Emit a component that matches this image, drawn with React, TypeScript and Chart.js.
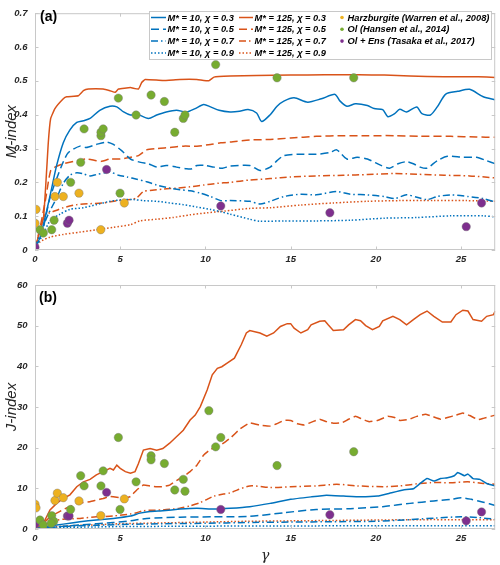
import React, { useEffect, useRef } from "react";
import { Chart, registerables } from "chart.js";
Chart.register(...registerables);

type P = [number, number];

// ---------- axis ticks ----------
const X_TICKS = [0, 5, 10, 15, 20, 25];
const X_TICK_LABELS = ["0", "5", "10", "15", "20", "25"];
const Y_TICKS_A = [0, 0.1, 0.2, 0.3, 0.4, 0.5, 0.6, 0.7];
const Y_TICK_LABELS_A = ["0", "0.1", "0.2", "0.3", "0.4", "0.5", "0.6", "0.7"];
const Y_TICKS_B = [0, 10, 20, 30, 40, 50, 60];
const Y_TICK_LABELS_B = ["0", "10", "20", "30", "40", "50", "60"];

// ---------- legend labels ----------
const LABELS_M10 = ["M* = 10, χ = 0.3", "M* = 10, χ = 0.5", "M* = 10, χ = 0.7", "M* = 10, χ = 0.9"];
const LABELS_M125 = ["M* = 125, χ = 0.3", "M* = 125, χ = 0.5", "M* = 125, χ = 0.7", "M* = 125, χ = 0.9"];
const LABELS_DATA = ["Harzburgite (Warren et al., 2008)", "Ol (Hansen et al., 2014)", "Ol + Ens (Tasaka et al., 2017)"];

// ---------- panel (a): M-index ----------
const aB03: P[] = [[0,0.005],[0.3,0.038],[0.68,0.115],[0.98,0.183],[1.27,0.25],[1.66,0.317],[2.05,0.355],[2.45,0.377],[2.84,0.382],[3.23,0.389],[3.8,0.413],[4.4,0.425],[4.8,0.423],[5.2,0.408],[5.6,0.399],[5.97,0.402],[6.65,0.389],[7.14,0.399],[7.7,0.408],[8.3,0.413],[8.9,0.408],[9.4,0.418],[9.9,0.43],[10.3,0.423],[10.8,0.413],[11.45,0.408],[12.0,0.41],[12.5,0.415],[13.0,0.405],[13.3,0.38],[13.8,0.4],[14.2,0.425],[14.6,0.44],[15.2,0.45],[16.0,0.437],[16.8,0.447],[17.6,0.46],[17.9,0.44],[18.3,0.425],[18.8,0.432],[19.5,0.427],[19.9,0.418],[20.4,0.415],[20.7,0.394],[21.1,0.403],[21.4,0.416],[21.8,0.408],[22.4,0.423],[22.7,0.403],[23.2,0.399],[23.6,0.423],[24.1,0.461],[24.8,0.469],[25.5,0.475],[26.3,0.453],[27,0.444]];
const aB05: P[] = [[0,0.005],[0.4,0.048],[0.88,0.154],[1.57,0.25],[1.96,0.288],[2.64,0.307],[3.0,0.303],[3.6,0.312],[4.2,0.319],[4.6,0.312],[5.1,0.293],[5.6,0.269],[6.2,0.259],[6.65,0.255],[7.14,0.245],[7.7,0.25],[8.3,0.245],[8.9,0.24],[9.2,0.24],[9.5,0.25],[10.0,0.25],[10.5,0.245],[11.0,0.242],[11.45,0.248],[12.6,0.25],[13.2,0.235],[13.8,0.245],[14.2,0.264],[14.6,0.279],[15.4,0.283],[16.5,0.283],[17.3,0.288],[17.7,0.296],[18.3,0.269],[18.9,0.274],[19.5,0.269],[20.3,0.25],[20.8,0.242],[21.3,0.255],[21.8,0.261],[22.2,0.255],[22.6,0.245],[23.0,0.242],[23.6,0.264],[24.2,0.277],[25.1,0.274],[25.9,0.274],[26.5,0.264],[27,0.255]];
const aB07: P[] = [[0,0.005],[0.3,0.048],[0.78,0.106],[1.27,0.154],[1.66,0.197],[2.05,0.221],[2.45,0.228],[2.84,0.225],[3.23,0.219],[3.6,0.223],[4.1,0.228],[4.4,0.231],[4.9,0.221],[5.4,0.216],[5.97,0.209],[6.55,0.202],[7.14,0.192],[7.9,0.183],[8.5,0.178],[9.1,0.175],[9.7,0.168],[10.3,0.158],[10.9,0.146],[11.45,0.146],[12.6,0.144],[13.2,0.136],[13.8,0.144],[14.6,0.158],[15.6,0.165],[16.5,0.163],[17.7,0.173],[18.5,0.165],[19.5,0.163],[20.5,0.158],[21.1,0.152],[21.8,0.163],[22.4,0.156],[23.0,0.149],[23.6,0.158],[24.4,0.163],[25.4,0.158],[26.3,0.152],[27,0.142]];
const aB09: P[] = [[0,0.005],[0.5,0.048],[0.88,0.086],[1.47,0.106],[2.05,0.12],[2.84,0.125],[3.6,0.134],[4.4,0.144],[5.2,0.149],[5.77,0.149],[6.36,0.146],[7.14,0.144],[7.9,0.139],[8.7,0.134],[9.5,0.127],[10.3,0.12],[10.9,0.113],[11.45,0.106],[12.6,0.091],[13.2,0.085],[14.6,0.086],[16.5,0.086],[18.5,0.088],[20.5,0.094],[22.4,0.096],[24.4,0.101],[26.3,0.101],[27,0.098]];
const aO03: P[] = [[0,0.005],[0.5,0.096],[0.78,0.317],[0.92,0.389],[1.17,0.418],[1.66,0.447],[1.86,0.453],[2.54,0.456],[2.84,0.471],[3.13,0.476],[4.0,0.476],[4.4,0.471],[4.7,0.466],[4.9,0.476],[5.6,0.48],[6.07,0.476],[6.26,0.495],[6.46,0.504],[7.5,0.501],[8.5,0.504],[9.5,0.504],[10.2,0.5],[10.5,0.511],[11.45,0.514],[13,0.516],[15,0.517],[17,0.518],[19,0.518],[20.5,0.517],[22,0.514],[24,0.512],[26,0.512],[27,0.51]];
const aO05: P[] = [[0,0.005],[0.3,0.067],[0.6,0.144],[0.92,0.235],[1.17,0.245],[1.66,0.255],[2.45,0.264],[3.0,0.269],[3.6,0.264],[3.9,0.262],[4.4,0.269],[5.0,0.269],[5.6,0.274],[6.07,0.279],[6.55,0.296],[7.14,0.3],[7.9,0.303],[8.7,0.307],[9.5,0.307],[10.3,0.312],[10.9,0.317],[11.45,0.319],[12.6,0.325],[13.8,0.327],[15,0.331],[16.5,0.336],[18.1,0.338],[19.5,0.338],[21.1,0.338],[22.6,0.336],[24.4,0.336],[25.9,0.334],[27,0.333]];
const aO07: P[] = [[0,0.005],[0.3,0.06],[0.6,0.106],[0.88,0.11],[1.66,0.125],[2.45,0.134],[3.23,0.137],[4.0,0.139],[4.8,0.146],[5.6,0.149],[5.97,0.154],[6.36,0.173],[6.75,0.176],[7.5,0.18],[8.3,0.183],[9.1,0.187],[9.9,0.192],[10.7,0.197],[11.45,0.2],[12.6,0.207],[13.8,0.211],[15,0.216],[16.5,0.219],[18.1,0.221],[19.5,0.223],[21.1,0.226],[22.4,0.224],[24,0.221],[25.5,0.219],[27,0.213]];
const aO09: P[] = [[0,0.005],[0.3,0.024],[0.88,0.038],[1.66,0.046],[2.64,0.053],[3.6,0.06],[4.6,0.067],[5.6,0.075],[6.16,0.086],[7.14,0.091],[8.1,0.096],[9.1,0.104],[10.1,0.11],[11.1,0.115],[12.6,0.123],[13.8,0.125],[15.6,0.133],[17.5,0.139],[19.5,0.144],[21.4,0.146],[23.4,0.146],[25.3,0.146],[27,0.144]];
const aHarz: P[] = [[0.06,0.12],[0,0.079],[1.17,0.158],[1.31,0.2],[1.66,0.158],[2.58,0.168],[3.86,0.06],[5.24,0.139]];
const aOl: P[] = [[0.29,0.06],[0.49,0.05],[0.98,0.06],[1.12,0.088],[2.09,0.2],[2.68,0.259],[2.88,0.358],[3.87,0.338],[3.87,0.348],[4.0,0.358],[4.89,0.449],[4.99,0.168],[5.93,0.399],[6.81,0.458],[7.59,0.439],[8.2,0.348],[8.7,0.389],[8.8,0.399],[10.2,0.688],[10.6,0.548],[14.2,0.509],[18.7,0.509]];
const aEns: P[] = [[0,0.008],[1.9,0.079],[2.0,0.088],[4.2,0.238],[10.9,0.13],[17.3,0.11],[25.3,0.069],[26.2,0.139]];

// ---------- panel (b): J-index ----------
const bB03: P[] = [[0,0.05],[0.68,0.6],[1.66,1.2],[2.64,1.8],[3.6,2.2],[4.6,2.6],[5.6,3.2],[6.16,3.9],[6.75,4.3],[7.5,4.5],[8.5,4.9],[9.5,5.1],[10.5,4.9],[11.45,5.1],[12.6,5.5],[13.8,6.3],[15,7.3],[16.2,7.9],[17.1,8.3],[18.1,8.1],[19.1,7.9],[20.1,8.1],[20.8,8.8],[21.6,9.6],[22.2,9.9],[22.6,11.2],[23.0,12.4],[23.4,11.8],[23.8,12.4],[24.2,12.6],[24.6,13.1],[24.8,13.9],[25.2,13.1],[25.4,13.5],[25.7,12.4],[26.1,12.2],[26.5,11.2],[27,10.6]];
const bB05: P[] = [[0,0.02],[0.7,0.3],[2.64,1.0],[4.6,1.6],[5.6,2.0],[6.55,2.6],[8.5,2.9],[10.5,3.0],[11.45,3.0],[12.6,3.1],[14.6,4.0],[16.5,4.8],[18.5,5.0],[20.4,5.5],[22.0,6.3],[23.4,6.9],[24.4,7.3],[25,7.7],[25.6,7.3],[26.3,6.6],[27,5.8]];
const bB07: P[] = [[0,0.02],[1,0.4],[2,0.7],[3.5,0.9],[5,1.1],[7.5,1.3],[10,1.4],[12.5,1.6],[15,1.7],[17.5,1.8],[20,1.9],[22,2.3],[23.5,2.7],[25,3.0],[26,2.8],[27,2.4]];
const bB09: P[] = [[0,0.01],[1,0.2],[2,0.4],[3.5,0.5],[5,0.6],[7.5,0.65],[10,0.7],[15,0.75],[20,0.8],[25,0.8],[27,0.8]];
const bO03: P[] = [[0,0.2],[0.49,1.4],[0.88,4.7],[1.27,6.3],[1.66,7.5],[2.05,8.4],[2.45,10.4],[2.84,11.6],[3.23,12.2],[3.6,13.3],[4.0,14.1],[4.4,14.9],[4.6,14.5],[4.8,15.7],[5.0,14.9],[5.3,14.1],[5.6,13.7],[5.87,14.1],[6.07,16.1],[6.36,19.4],[6.75,19.8],[7.14,19.4],[7.5,19.8],[7.9,21.1],[8.3,22.7],[8.7,24.3],[9.1,26.8],[9.4,28.0],[9.7,30.1],[10.1,34.2],[10.4,37.9],[10.7,39.5],[10.96,39.9],[11.25,40.7],[11.7,42],[12.1,45.3],[12.4,48.2],[12.6,48.8],[13.2,48.2],[13.6,47.4],[14.0,48.2],[14.4,49.8],[14.8,50.5],[15,50.5],[15.2,49.4],[15.6,48.2],[16.0,49.0],[16.2,50.2],[16.7,51.1],[17.0,51.2],[17.2,50.2],[17.5,48.8],[18.1,49.0],[18.4,50.2],[18.8,51.5],[19.1,51.2],[19.4,50.0],[19.8,49.0],[20.2,49.8],[20.4,51.2],[21.0,52.3],[21.4,51.5],[21.8,50.2],[22.2,51.5],[22.6,52.7],[23.0,53.6],[23.4,52.3],[23.9,50.9],[24.4,50.9],[24.7,52.7],[25.1,53.8],[25.4,53.6],[25.7,51.5],[26.2,51.1],[26.5,52.3],[26.9,52.7],[27,53.6]];
const bO05: P[] = [[0,0.1],[0.5,1.4],[0.88,3.0],[1.27,3.9],[1.66,4.8],[2.05,5.5],[2.45,6.3],[2.84,6.5],[3.23,6.7],[3.6,7.1],[4.0,7.5],[4.4,8.0],[4.8,7.8],[5.2,7.5],[5.6,8.0],[5.97,9.6],[6.36,10.8],[6.75,10.6],[7.14,10.4],[7.5,10.4],[7.9,10.8],[8.3,11.9],[8.7,12.9],[9.1,14.1],[9.5,15.7],[9.9,18.2],[10.3,19.6],[10.7,20.2],[11.06,21.1],[11.5,22.5],[12.0,24.5],[12.6,26.1],[13.2,25.5],[13.8,25.3],[14.2,25.9],[14.6,26.7],[15.0,26.7],[15.4,25.9],[15.8,25.6],[16.3,26.4],[16.7,27.0],[17.1,26.4],[17.5,26.0],[18.0,26.1],[18.4,27.0],[18.8,27.7],[19.2,27.0],[19.6,26.4],[20.1,26.7],[20.7,27.7],[21.1,27.4],[21.4,26.7],[21.9,26.9],[22.4,27.7],[22.9,28.2],[23.3,27.7],[23.8,27.0],[24.2,27.4],[24.7,28.0],[25.1,28.5],[25.5,27.9],[26.0,26.9],[26.3,27.2],[27,28.0]];
const bO07: P[] = [[0,0.1],[0.5,1.0],[0.88,1.8],[1.66,2.4],[2.64,2.6],[3.6,3.0],[4.6,3.2],[5.6,3.7],[5.97,4.0],[6.36,4.5],[7.5,4.7],[8.5,5.1],[9.1,5.7],[9.7,6.5],[10.1,7.3],[10.5,8.1],[11.06,8.6],[11.45,8.9],[12.6,10.6],[13.8,10.2],[15,10.4],[16.5,10.6],[17.7,11.0],[18.9,10.6],[20.4,10.4],[21.4,10.6],[22.4,11.1],[23.2,11.4],[24.4,11.4],[25.4,11.6],[26.3,11.2],[27,11.0]];
const bO09: P[] = [[0,0.05],[1,0.5],[2,0.8],[3.5,1.0],[5,1.3],[7.5,1.5],[10,1.7],[12.5,1.9],[15,2.0],[17.5,2.1],[20,2.2],[22.5,2.3],[25,2.3],[27,2.3]];
const bHarz: P[] = [[0,6.1],[0.06,5.2],[1.17,7.0],[1.31,8.8],[1.66,7.7],[2.58,6.9],[3.86,3.3],[5.24,7.4]];
const bOl: P[] = [[0.29,2.2],[0.49,1.0],[0.98,3.3],[1.1,1.9],[0.95,1.4],[2.09,4.8],[2.68,13.1],[2.88,10.6],[3.87,10.6],[4.0,14.3],[4.89,22.5],[4.99,4.8],[5.93,11.6],[6.81,18.0],[6.81,17.0],[7.59,16.1],[8.2,9.6],[8.7,12.2],[8.8,9.3],[10.2,29.1],[10.6,20.2],[10.9,22.5],[14.2,15.6],[18.7,19.0]];
const bEns: P[] = [[0,1.2],[1.9,3.2],[2.0,3.2],[4.2,9.0],[10.9,4.8],[17.3,3.5],[25.3,2.0],[26.2,4.2]];

// ---------- styles ----------
const BLUE = "#0072BD";
const ORANGE = "#D95319";
const YELLOW = "#EDB120";
const GREEN = "#77AC30";
const PURPLE = "#7E2F8E";
const FRAME = "#c8c8c8";
const TEXT = "#262626";
const FAMILY = "'Liberation Sans', Arial, Helvetica, sans-serif";
const DASHES: number[][] = [[], [8, 4], [7, 3, 1.5, 3], [1.5, 2]];

const toXY = (pts: P[]) => pts.map(([x, y]) => ({ x, y }));

function lineDs(label: string, pts: P[], color: string, dash: number[], tension = 0.25): any {
  return {
    label, data: toXY(pts), showLine: true, borderColor: color, backgroundColor: color,
    borderWidth: 1.5, borderDash: dash, pointRadius: 0, pointHoverRadius: 0, tension, fill: false, order: 2,
  };
}
function scatDs(label: string, pts: P[], color: string): any {
  return {
    label, data: toXY(pts), showLine: false, backgroundColor: color,
    borderColor: "rgba(120,120,120,0.7)", borderWidth: 0.6, pointRadius: 4.2, order: 1,
  };
}

const boxPlugin = {
  id: "boxTicks",
  afterDatasetsDraw(chart: any) {
    const { ctx, chartArea, scales } = chart;
    const { left, right, top, bottom } = chartArea;
    ctx.save();
    ctx.strokeStyle = FRAME;
    ctx.lineWidth = 1;
    ctx.setLineDash([]);
    ctx.strokeRect(left + 0.5, top + 0.5, right - left - 1, bottom - top - 1);
    const tl = 3.5;
    ctx.beginPath();
    for (const t of scales.x.ticks) {
      const px = Math.round(scales.x.getPixelForValue(t.value)) + 0.5;
      ctx.moveTo(px, bottom); ctx.lineTo(px, bottom - tl);
      ctx.moveTo(px, top); ctx.lineTo(px, top + tl);
    }
    for (const t of scales.y.ticks) {
      const py = Math.round(scales.y.getPixelForValue(t.value)) + 0.5;
      ctx.moveTo(left, py); ctx.lineTo(left + tl, py);
      ctx.moveTo(right, py); ctx.lineTo(right - tl, py);
    }
    ctx.stroke();
    ctx.restore();
  },
};

function panelLabelPlugin(text: string, x: number, y: number) {
  return {
    id: "panelLabel",
    afterDraw(chart: any) {
      const ctx = chart.ctx;
      ctx.save();
      ctx.font = `bold 14px ${FAMILY}`;
      ctx.fillStyle = "#000";
      ctx.textBaseline = "middle";
      ctx.textAlign = "left";
      ctx.fillText(text, x, y);
      ctx.restore();
    },
  };
}

const legendPlugin = {
  id: "customLegend",
  afterDraw(chart: any) {
    const ctx = chart.ctx;
    const ds = chart.data.datasets;
    ctx.save();
    const bx = 149.5, by = 11.5, bw = 342, bh = 48;
    ctx.fillStyle = "#fff";
    ctx.fillRect(bx, by, bw, bh);
    ctx.strokeStyle = FRAME;
    ctx.lineWidth = 1;
    ctx.strokeRect(bx, by, bw, bh);
    const rows = [17.5, 29.3, 41.1, 52.9];
    const cols = [
      { lx0: 151, lx1: 166, tx: 167.5 },
      { lx0: 239, lx1: 253, tx: 254.5 },
      { lx0: 342, lx1: 342, tx: 347.5 },
    ];
    ctx.font = `italic bold 9.3px ${FAMILY}`;
    ctx.textBaseline = "middle";
    ctx.textAlign = "left";
    for (let c = 0; c < 3; c++) {
      for (let r = 0; r < 4; r++) {
        const d = ds[c * 4 + r];
        if (!d) continue;
        const y = rows[r];
        const col = cols[c];
        if (d.showLine) {
          ctx.strokeStyle = d.borderColor;
          ctx.lineWidth = 1.5;
          ctx.setLineDash(d.borderDash || []);
          ctx.beginPath();
          ctx.moveTo(col.lx0, y);
          ctx.lineTo(col.lx1, y);
          ctx.stroke();
          ctx.setLineDash([]);
        } else {
          ctx.fillStyle = d.backgroundColor;
          ctx.beginPath();
          ctx.arc(col.lx0, y, 1.8, 0, Math.PI * 2);
          ctx.fill();
        }
        ctx.fillStyle = "#000";
        ctx.fillText(d.label, col.tx, y + 0.5);
      }
    }
    ctx.restore();
  },
};

function makeOptions(yTicks: number[], yLabels: string[], yMax: number, yTitle: string, xTitle: string | null, padTop: number, xAxisH: number): any {
  const tickFont = { family: FAMILY, size: 9.5, weight: "bold", style: "italic" };
  return {
    animation: false,
    responsive: false,
    maintainAspectRatio: false,
    events: [],
    layout: { padding: { top: padTop, right: 4, left: 0, bottom: 0 } },
    plugins: { legend: { display: false }, tooltip: { enabled: false } },
    scales: {
      x: {
        type: "linear", min: 0, max: 27,
        grid: { display: false, drawTicks: false },
        border: { display: false },
        afterBuildTicks: (s: any) => { s.ticks = X_TICKS.map((value) => ({ value })); },
        ticks: {
          font: tickFont, color: TEXT, padding: 4, maxRotation: 0, autoSkip: false,
          callback: (v: number) => X_TICK_LABELS[X_TICKS.indexOf(v)] ?? "",
        },
        title: xTitle
          ? { display: true, text: xTitle, color: TEXT, font: { family: "'DejaVu Serif', 'Liberation Serif', serif", size: 14, style: "italic" }, padding: { top: 0, bottom: 0 } }
          : { display: false },
        afterFit: (s: any) => { s.height = xAxisH; },
      },
      y: {
        type: "linear", min: 0, max: yMax,
        grid: { display: false, drawTicks: false },
        border: { display: false },
        afterBuildTicks: (s: any) => { s.ticks = yTicks.map((value) => ({ value })); },
        ticks: {
          font: tickFont, color: TEXT, padding: 7.5, autoSkip: false,
          callback: (v: number) => yLabels[yTicks.indexOf(v)] ?? "",
        },
        title: { display: true, text: yTitle, color: TEXT, font: { family: FAMILY, size: 15, style: "italic" }, padding: { top: 3, bottom: 0 } },
        afterFit: (s: any) => { s.width = 35; },
      },
    },
  };
}

function PanelA() {
  const ref = useRef<HTMLCanvasElement>(null);
  useEffect(() => {
    const datasets = [
      lineDs(LABELS_M10[0], aB03, BLUE, DASHES[0]),
      lineDs(LABELS_M10[1], aB05, BLUE, DASHES[1]),
      lineDs(LABELS_M10[2], aB07, BLUE, DASHES[2]),
      lineDs(LABELS_M10[3], aB09, BLUE, DASHES[3]),
      lineDs(LABELS_M125[0], aO03, ORANGE, DASHES[0], 0.1),
      lineDs(LABELS_M125[1], aO05, ORANGE, DASHES[1]),
      lineDs(LABELS_M125[2], aO07, ORANGE, DASHES[2]),
      lineDs(LABELS_M125[3], aO09, ORANGE, DASHES[3]),
      scatDs(LABELS_DATA[0], aHarz, YELLOW),
      scatDs(LABELS_DATA[1], aOl, GREEN),
      scatDs(LABELS_DATA[2], aEns, PURPLE),
    ];
    const chart = new Chart(ref.current as HTMLCanvasElement, {
      type: "scatter",
      data: { datasets },
      options: makeOptions(Y_TICKS_A, Y_TICK_LABELS_A, 0.7, "M-index", null, 7, 20),
      plugins: [boxPlugin, legendPlugin, panelLabelPlugin("(a)", 40, 17.5)],
    } as any);
    return () => chart.destroy();
  }, []);
  return <canvas ref={ref} width={500} height={270} style={{ position: "absolute", left: 0, top: 0, width: 500, height: 270 }} />;
}

function PanelB() {
  const ref = useRef<HTMLCanvasElement>(null);
  useEffect(() => {
    const datasets = [
      lineDs(LABELS_M10[0], bB03, BLUE, DASHES[0], 0.1),
      lineDs(LABELS_M10[1], bB05, BLUE, DASHES[1]),
      lineDs(LABELS_M10[2], bB07, BLUE, DASHES[2]),
      lineDs(LABELS_M10[3], bB09, BLUE, DASHES[3]),
      lineDs(LABELS_M125[0], bO03, ORANGE, DASHES[0], 0),
      lineDs(LABELS_M125[1], bO05, ORANGE, DASHES[1], 0.1),
      lineDs(LABELS_M125[2], bO07, ORANGE, DASHES[2]),
      lineDs(LABELS_M125[3], bO09, ORANGE, DASHES[3]),
      scatDs(LABELS_DATA[0], bHarz, YELLOW),
      scatDs(LABELS_DATA[1], bOl, GREEN),
      scatDs(LABELS_DATA[2], bEns, PURPLE),
    ];
    const chart = new Chart(ref.current as HTMLCanvasElement, {
      type: "scatter",
      data: { datasets },
      options: makeOptions(Y_TICKS_B, Y_TICK_LABELS_B, 60, "J-index", "γ", 15, 36),
      plugins: [boxPlugin, panelLabelPlugin("(b)", 39, 28)],
    } as any);
    return () => chart.destroy();
  }, []);
  return <canvas ref={ref} width={500} height={295} style={{ position: "absolute", left: 0, top: 270, width: 500, height: 295 }} />;
}

export default function App() {
  return (
    <div style={{ position: "absolute", left: 0, top: 0, width: 500, height: 565, background: "#fff", overflow: "hidden" }}>
      <PanelA />
      <PanelB />
    </div>
  );
}
